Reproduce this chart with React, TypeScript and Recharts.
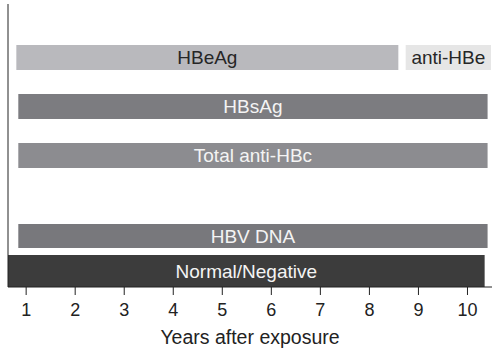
import { BarChart, Bar, XAxis, YAxis, Cell, LabelList, Label } from 'recharts'

// x range of the plot (years after exposure)
const X_DOMAIN = [0.63, 10.5]
const years = [1, 2, 3, 4, 5, 6, 7, 8, 9, 10]

// upper markers
const markers = ['HBeAg', 'HBsAg', 'Total anti-HBc']
const markerStart = [0.8, 0.84, 0.84]
const markerEnd = [8.59, 10.41, 10.41]

// seroconversion segment on the HBeAg row
const seroLabel = 'anti-HBe'
const seroRange = [8.74, 10.48]

const dnaLabel = 'HBV DNA'
const dnaRange = [0.84, 10.41]

const baseLabel = 'Normal/Negative'
const baseRange = [0.63, 10.35]

const markerFill = ['#b9b9bd', '#7c7c80', '#8c8c90']
const markerText = ['#262626', '#f4f4f4', '#f4f4f4']

const FONT = '"Liberation Sans", Arial, sans-serif'
const AXIS = '#222'

const topData = markers.map((name, i) => ({
  name,
  range: [markerStart[i], markerEnd[i]],
  sero: i === 0 ? seroRange : null,
  seroName: i === 0 ? seroLabel : null
}))
const dnaData = [{ name: dnaLabel, range: dnaRange }]
const baseData = [{ name: baseLabel, range: baseRange }]

const centerLabel = (colors: string[] | string) => (props: any) => {
  const vb = props.viewBox || props
  const { x, y, width, height } = vb
  if (props.value == null || !width) return null
  const fill = Array.isArray(colors) ? colors[props.index ?? 0] : colors
  return (
    <text
      x={x + width / 2}
      y={y + height / 2}
      textAnchor="middle"
      dominantBaseline="central"
      fill={fill}
      fontSize={19}
      fontFamily={FONT}
    >
      {props.value}
    </text>
  )
}

// YAxis gets width 1 (a 0-width axis is not drawn), so left margin is 7
const margin = { top: 0, right: 8, bottom: 0, left: 7 }

export default function App() {
  return (
    <div
      style={{
        position: 'absolute',
        left: 0,
        top: 0,
        width: 500,
        height: 354,
        background: '#fff',
        fontFamily: FONT
      }}
    >
      {/* serological markers */}
      <BarChart width={500} height={196} data={topData} layout="vertical" margin={{ ...margin, top: 4 }} barGap={-25}>
        <XAxis type="number" domain={X_DOMAIN} allowDataOverflow hide />
        <YAxis
          type="category"
          dataKey="name"
          width={1}
          tick={false}
          tickLine={false}
          axisLine={{ stroke: AXIS }}
          padding={{ top: 29, bottom: 16 }}
        />
        <Bar dataKey="range" barSize={25} isAnimationActive={false}>
          {topData.map((d, i) => (
            <Cell key={d.name} fill={markerFill[i]} />
          ))}
          <LabelList dataKey="name" content={centerLabel(markerText)} />
        </Bar>
        <Bar dataKey="sero" barSize={25} fill="#e6e6e6" isAnimationActive={false}>
          <LabelList dataKey="seroName" content={centerLabel('#262626')} />
        </Bar>
      </BarChart>

      {/* viral load */}
      <BarChart width={500} height={59} data={dnaData} layout="vertical" margin={margin}>
        <XAxis type="number" domain={X_DOMAIN} allowDataOverflow hide />
        <YAxis
          type="category"
          dataKey="name"
          width={1}
          tick={false}
          tickLine={false}
          axisLine={{ stroke: AXIS }}
          padding={{ top: 20, bottom: 0 }}
        />
        <Bar dataKey="range" barSize={24} fill="#78787c" isAnimationActive={false}>
          <LabelList dataKey="name" content={centerLabel('#f4f4f4')} />
        </Bar>
      </BarChart>

      {/* baseline + axis */}
      <BarChart width={500} height={99} data={baseData} layout="vertical" margin={margin} barCategoryGap={0}>
        <XAxis
          type="number"
          domain={X_DOMAIN}
          allowDataOverflow
          ticks={years}
          height={67}
          tickSize={8}
          tickMargin={8}
          axisLine={{ stroke: AXIS }}
          tickLine={{ stroke: AXIS }}
          tick={{ fontSize: 18, fill: '#222', fontFamily: FONT }}
        >
          <Label
            value="Years after exposure"
            position="insideBottom"
            offset={10}
            style={{ fontSize: 19.5, fill: '#222', fontFamily: FONT }}
          />
        </XAxis>
        <YAxis type="category" dataKey="name" width={1} tick={false} tickLine={false} axisLine={{ stroke: AXIS }} />
        <Bar dataKey="range" fill="#3c3c3c" isAnimationActive={false}>
          <LabelList dataKey="name" content={centerLabel('#f4f4f4')} />
        </Bar>
      </BarChart>
    </div>
  )
}
